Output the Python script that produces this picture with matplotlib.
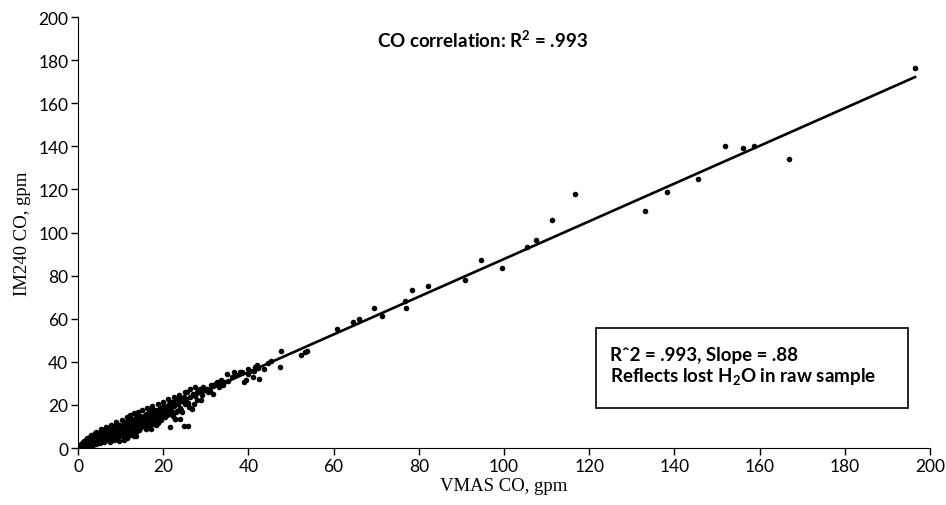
import numpy as np
import matplotlib.pyplot as plt
from matplotlib.patches import Rectangle

# VMAS CO vs IM240 CO, gpm
vmas_co = [
    # 0-5
    0.3, 0.5, 0.6, 0.8, 1.0, 1.1, 1.2, 1.4, 1.5, 1.6, 1.8, 1.9, 2.0, 2.1, 2.2, 2.4, 2.5, 2.6, 2.7, 2.8,
    3.0, 3.1, 3.2, 3.3, 3.4, 3.5, 3.6, 3.8, 3.9, 4.0, 4.1, 4.2, 4.3, 4.4, 4.5, 4.6, 4.7, 4.8, 4.9, 5.0,
    1.3, 1.7, 2.3, 2.9, 3.7, 4.05, 4.65, 0.9, 2.15, 3.25, 3.85, 4.35, 4.95, 1.55, 2.65,
    # 5-10
    5.2, 5.3, 5.5, 5.6, 5.7, 5.9, 6.0, 6.1, 6.3, 6.4, 6.5, 6.7, 6.8, 6.9, 7.0, 7.2, 7.3, 7.5, 7.6, 7.7,
    7.9, 8.0, 8.1, 8.3, 8.4, 8.5, 8.7, 8.8, 8.9, 9.0, 9.2, 9.3, 9.5, 9.6, 9.7, 9.9, 10.0,
    5.45, 6.25, 7.15, 8.25, 9.15, 5.85, 6.85, 7.85,
    # 10-15
    10.2, 10.4, 10.5, 10.7, 10.8, 11.0, 11.1, 11.3, 11.5, 11.6, 11.8, 11.9, 12.1, 12.2, 12.4, 12.5,
    12.7, 12.8, 13.0, 13.1, 13.3, 13.5, 13.6, 13.8, 13.9, 14.1, 14.2, 14.4, 14.5, 14.7, 14.8, 15.0,
    10.9, 11.7, 12.6, 13.4, 14.3, 11.2, 12.9, 13.7,
    # 15-20
    15.2, 15.4, 15.6, 15.8, 16.0, 16.2, 16.4, 16.5, 16.7, 16.9, 17.1, 17.3, 17.5, 17.6, 17.8, 18.0,
    18.2, 18.4, 18.5, 18.7, 18.9, 19.1, 19.3, 19.5, 19.6, 19.8, 20.0, 15.9, 16.8, 17.7, 18.6, 19.4,
    16.1, 17.2, 18.3,
    # 20-26
    20.2, 20.5, 20.8, 21.0, 21.3, 21.6, 21.8, 22.1, 22.4, 22.6, 22.8, 23.1, 23.3, 23.5, 23.8, 24.0,
    24.3, 24.5, 24.8, 25.0, 20.0, 21.6, 22.4, 22.8, 23.9, 24.9, 25.9, 23.2, 20.6, 21.9,
    # 25-37
    25.4, 25.5, 25.9, 26.4, 26.7, 27.0, 27.5, 27.9, 28.0, 28.3, 28.6, 29.0, 29.4, 29.8, 30.2, 30.6,
    31.0, 31.2, 31.6, 31.8, 32.2, 32.6, 33.0, 33.5, 34.0, 34.3, 34.9, 35.3, 36.1, 36.5,
    # 37-48
    37.2, 38.0, 38.4, 39.0, 39.4, 40.4, 41.1, 41.3, 41.9, 42.3, 42.6, 43.7, 45.2, 47.4, 47.7,
    40.0, 39.8, 41.6, 44.5,
    # upper edge of the dense band
    2.0, 3.0, 4.2, 5.4, 6.6, 7.8, 9.0, 10.3, 11.4, 12.3, 13.2, 14.0, 15.1, 16.3, 17.4, 18.8,
    19.9, 21.2, 22.5, 23.7, 25.1, 26.3, 27.4,
    # lower edge of the dense band
    3.4, 5.1, 6.2, 7.4, 8.6, 9.8, 11.0, 12.3, 13.5, 14.6, 15.7, 17.0, 18.1, 19.3, 20.5, 21.9,
    23.0, 24.2, 26.0, 27.2, 28.8,
    # upper range
    52.3, 53.4, 53.8, 60.7, 64.5, 66.0, 69.6, 71.3, 77.1, 76.7, 78.5, 82.2, 90.8, 94.5, 99.6,
    105.4, 107.6, 111.2, 116.6, 133.1, 138.3, 145.6, 151.8, 156.2, 158.7, 166.9, 196.5,
]
im240_co = [
    # 0-5
    0.5, 1.2, 0.3, 1.8, 0.9, 2.6, 1.5, 0.6, 3.1, 2.2, 1.0, 3.8, 2.7, 1.6, 4.3, 0.8, 3.3, 2.0, 4.9, 1.4,
    3.6, 5.4, 2.5, 1.1, 4.4, 6.0, 3.0, 2.2, 5.1, 6.8, 3.9, 1.9, 4.8, 6.1, 2.9, 5.6, 3.5, 7.2, 4.2, 2.6,
    2.0, 2.9, 3.0, 3.2, 4.6, 3.2, 4.9, 0.4, 1.1, 2.9, 3.6, 2.4, 5.8, 1.3, 3.9,
    # 5-10
    4.5, 7.5, 3.3, 5.9, 8.3, 4.8, 2.9, 6.6, 5.3, 8.9, 3.9, 7.1, 5.6, 9.4, 4.3, 6.3, 8.2, 2.8, 5.9, 7.6,
    9.8, 4.6, 6.9, 8.4, 3.5, 10.1, 6.2, 7.8, 4.1, 9.1, 5.4, 8.7, 6.8, 10.7, 3.2, 7.5, 9.2,
    6.4, 4.4, 5.1, 5.7, 7.2, 6.0, 3.6, 8.9,
    # 10-15
    7.6, 10.2, 5.4, 8.9, 11.6, 6.8, 9.7, 12.3, 7.9, 4.8, 10.8, 8.6, 12.9, 6.2, 11.2, 9.4,
    13.5, 7.3, 10.6, 5.6, 12.2, 9.1, 14.2, 11.0, 7.9, 13.1, 10.1, 8.5, 15.0, 12.0, 9.9, 13.8,
    3.6, 11.6, 10.0, 12.8, 11.7, 9.3, 8.1, 5.7,
    # 15-20
    12.4, 14.9, 10.8, 13.4, 15.9, 11.7, 14.3, 9.8, 16.6, 12.9, 15.2, 11.1, 17.3, 13.9, 16.0, 12.2,
    14.7, 17.8, 15.6, 11.7, 16.8, 14.1, 18.5, 12.9, 17.1, 15.4, 19.2, 8.9, 18.1, 17.8, 14.2, 16.2,
    13.8, 8.6, 10.8,
    # 20-26
    16.4, 18.9, 19.6, 15.3, 20.4, 17.8, 21.3, 16.9, 21.2, 19.3, 13.5, 22.7, 17.4, 20.5, 23.1, 18.8,
    21.9, 16.6, 23.8, 20.6, 18.9, 9.6, 14.7, 13.5, 13.5, 10.1, 10.1, 22.7, 17.3, 18.5,
    # 25-37
    22.7, 26.1, 21.1, 23.6, 18.1, 24.9, 24.3, 22.1, 25.8, 26.9, 27.4, 24.4, 28.2, 26.8, 27.6, 25.9,
    26.6, 29.3, 25.0, 28.6, 29.9, 30.5, 28.4, 31.4, 29.2, 30.5, 34.3, 31.1, 32.8, 35.4,
    # 37-48
    33.8, 35.1, 35.1, 30.5, 31.6, 35.9, 33.1, 35.9, 38.5, 37.0, 32.0, 36.5, 40.2, 37.7, 45.1,
    34.2, 36.8, 37.6, 39.5,
    # upper edge of the dense band
    4.6, 5.9, 7.4, 8.6, 9.9, 10.9, 12.3, 13.2, 14.6, 15.4, 16.1, 16.9, 17.8, 18.6, 19.4, 20.6,
    21.5, 22.6, 23.9, 24.8, 26.2, 27.4, 28.4,
    # lower edge of the dense band
    1.2, 2.4, 3.1, 3.8, 4.9, 5.8, 6.5, 7.2, 8.3, 9.1, 10.0, 11.2, 12.0, 13.1, 14.2, 15.6,
    16.7, 17.6, 19.2, 20.4, 22.1,
    # upper range
    43.3, 44.4, 45.0, 55.2, 58.5, 59.8, 64.8, 61.3, 64.8, 68.4, 73.5, 75.0, 78.1, 87.3, 83.6,
    93.3, 96.5, 105.8, 117.8, 110.0, 118.8, 125.0, 140.2, 139.0, 140.2, 134.1, 176.5,
]

# regression line
fit_slope = 0.875
fit_intercept = 0.2

x_ticks = list(range(0, 201, 20))
y_ticks = list(range(0, 201, 20))

plt.rcParams['font.family'] = ['Lato', 'DejaVu Sans']

fig = plt.figure(figsize=(9.46, 5.06), dpi=100)
ax = fig.add_axes([0.0825, 0.1126, 0.9005, 0.8518])

ax.scatter(vmas_co, im240_co, s=16, color="black", linewidths=0, zorder=3)
xf = np.array([0, max(vmas_co)])
ax.plot(xf, fit_slope * xf + fit_intercept, color="black", lw=1.9, zorder=2)

ax.set_xlim(0, 200)
ax.set_ylim(0, 200)
ax.set_xticks(x_ticks)
ax.set_yticks(y_ticks)
ax.spines["top"].set_visible(False)
ax.spines["right"].set_visible(False)
ax.tick_params(direction="out", length=5, width=1, labelsize=12.5, pad=2)

ax.set_xlabel("VMAS CO, gpm", family="Liberation Serif", fontsize=13.5, labelpad=2)
ax.set_ylabel("IM240 CO, gpm", family="Liberation Serif", fontsize=13.5, labelpad=5)

ax.text(95, 190, r"CO correlation: R$^\mathregular{2}$ = .993", ha="center", va="center",
        fontsize=13.5, fontweight="bold")

ax.add_patch(Rectangle((0.608, 0.093), 0.366, 0.185, transform=ax.transAxes,
                       fill=False, edgecolor="black", lw=1.2))
ax.text(0.624, 0.218, "R\u02c62 = .993, Slope = .88", transform=ax.transAxes,
        ha="left", va="center", fontsize=13.5, fontweight="bold")
ax.text(0.624, 0.167, r"Reflects lost H$_\mathregular{2}$O in raw sample", transform=ax.transAxes,
        ha="left", va="center", fontsize=13.5, fontweight="bold")

fig.savefig("out.png", dpi=100)
